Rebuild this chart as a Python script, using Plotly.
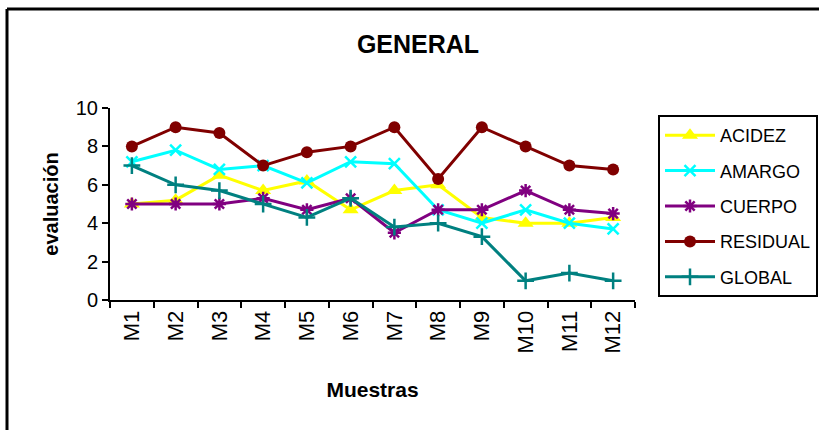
import plotly.graph_objects as go

# Samples and sensory scores per attribute
muestras = ["M1", "M2", "M3", "M4", "M5", "M6", "M7", "M8", "M9", "M10", "M11", "M12"]
acidez = [5.0, 5.2, 6.5, 5.7, 6.2, 4.7, 5.7, 6.0, 4.3, 4.0, 4.0, 4.3]
amargo = [7.2, 7.8, 6.8, 7.0, 6.1, 7.2, 7.1, 4.7, 4.0, 4.7, 4.0, 3.7]
cuerpo = [5.0, 5.0, 5.0, 5.3, 4.7, 5.3, 3.5, 4.7, 4.7, 5.7, 4.7, 4.5]
residual = [8.0, 9.0, 8.7, 7.0, 7.7, 8.0, 9.0, 6.3, 9.0, 8.0, 7.0, 6.8]
global_ = [7.0, 6.0, 5.7, 5.0, 4.3, 5.3, 3.8, 4.0, 3.3, 1.0, 1.4, 1.0]

series = [
    ("ACIDEZ", acidez, "#FFFF00", dict(symbol="triangle-up", size=14)),
    ("AMARGO", amargo, "#00FFFF", dict(symbol="x-thin", size=11, line=dict(width=2.5, color="#00FFFF"))),
    ("CUERPO", cuerpo, "#800080", dict(symbol="asterisk", size=11, line=dict(width=2.5, color="#800080"))),
    ("RESIDUAL", residual, "#800000", dict(symbol="circle", size=12)),
    ("GLOBAL", global_, "#008080", dict(symbol="cross-thin", size=12, line=dict(width=2.5, color="#008080"))),
]

fig = go.Figure()
for name, vals, color, marker in series:
    fig.add_trace(go.Scatter(
        x=muestras, y=vals, name=name, mode="lines+markers",
        line=dict(color=color, width=3),
        marker=dict(color=color, **marker),
        legendgroup=name,
    ))

L, R, T, B = 110, 184, 108, 130
W, H = 819, 430
pw, ph = W - L - R, H - T - B

def px_x(p):
    return (p - L) / pw

def px_y(p):
    return (H - B - p) / ph

font = "Liberation Sans, Arial, sans-serif"

fig.update_layout(
    width=W, height=H,
    margin=dict(l=L, r=R, t=T, b=B, pad=0, autoexpand=False),
    paper_bgcolor="white", plot_bgcolor="white",
    font=dict(family=font, color="black", size=16),
    title=dict(text="<b>GENERAL</b>", x=px_x(418), xref="paper", xanchor="center",
               y=1 - 44 / H, yanchor="middle", font=dict(size=25)),
    showlegend=True,
    legend=dict(
        x=px_x(658), y=px_y(115), xanchor="left", yanchor="top",
        xref="paper", yref="paper",
        bordercolor="black", borderwidth=2, bgcolor="white",
        font=dict(size=18), tracegroupgap=9,
        itemwidth=50,
        maxheight=300,
    ),
    xaxis=dict(
        type="category", range=[-0.5, 11.5],
        showline=True, linecolor="black", linewidth=2,
        ticks="outside", tickson="boundaries", ticklen=6, tickwidth=2, tickcolor="black",
        tickangle=-90, tickfont=dict(size=22),
        showgrid=False, zeroline=False,
        title=dict(text="<b>Muestras</b>", font=dict(size=21), standoff=30),
    ),
    yaxis=dict(
        range=[0, 10], dtick=2,
        showline=True, linecolor="black", linewidth=2,
        ticks="outside", ticklen=6, tickwidth=2, tickcolor="black",
        tickfont=dict(size=20),
        showgrid=False, zeroline=False,
        title=dict(text="<b>evaluación</b>", font=dict(size=20), standoff=12),
    ),
)

# Outer chart frame (open at right and bottom)
fig.add_shape(type="line", xref="paper", yref="paper",
              x0=px_x(7), x1=px_x(7), y0=px_y(9), y1=px_y(440),
              line=dict(color="black", width=3))
fig.add_shape(type="line", xref="paper", yref="paper",
              x0=px_x(7), x1=px_x(830), y0=px_y(9), y1=px_y(9),
              line=dict(color="black", width=3))

fig.write_html("out.html")
